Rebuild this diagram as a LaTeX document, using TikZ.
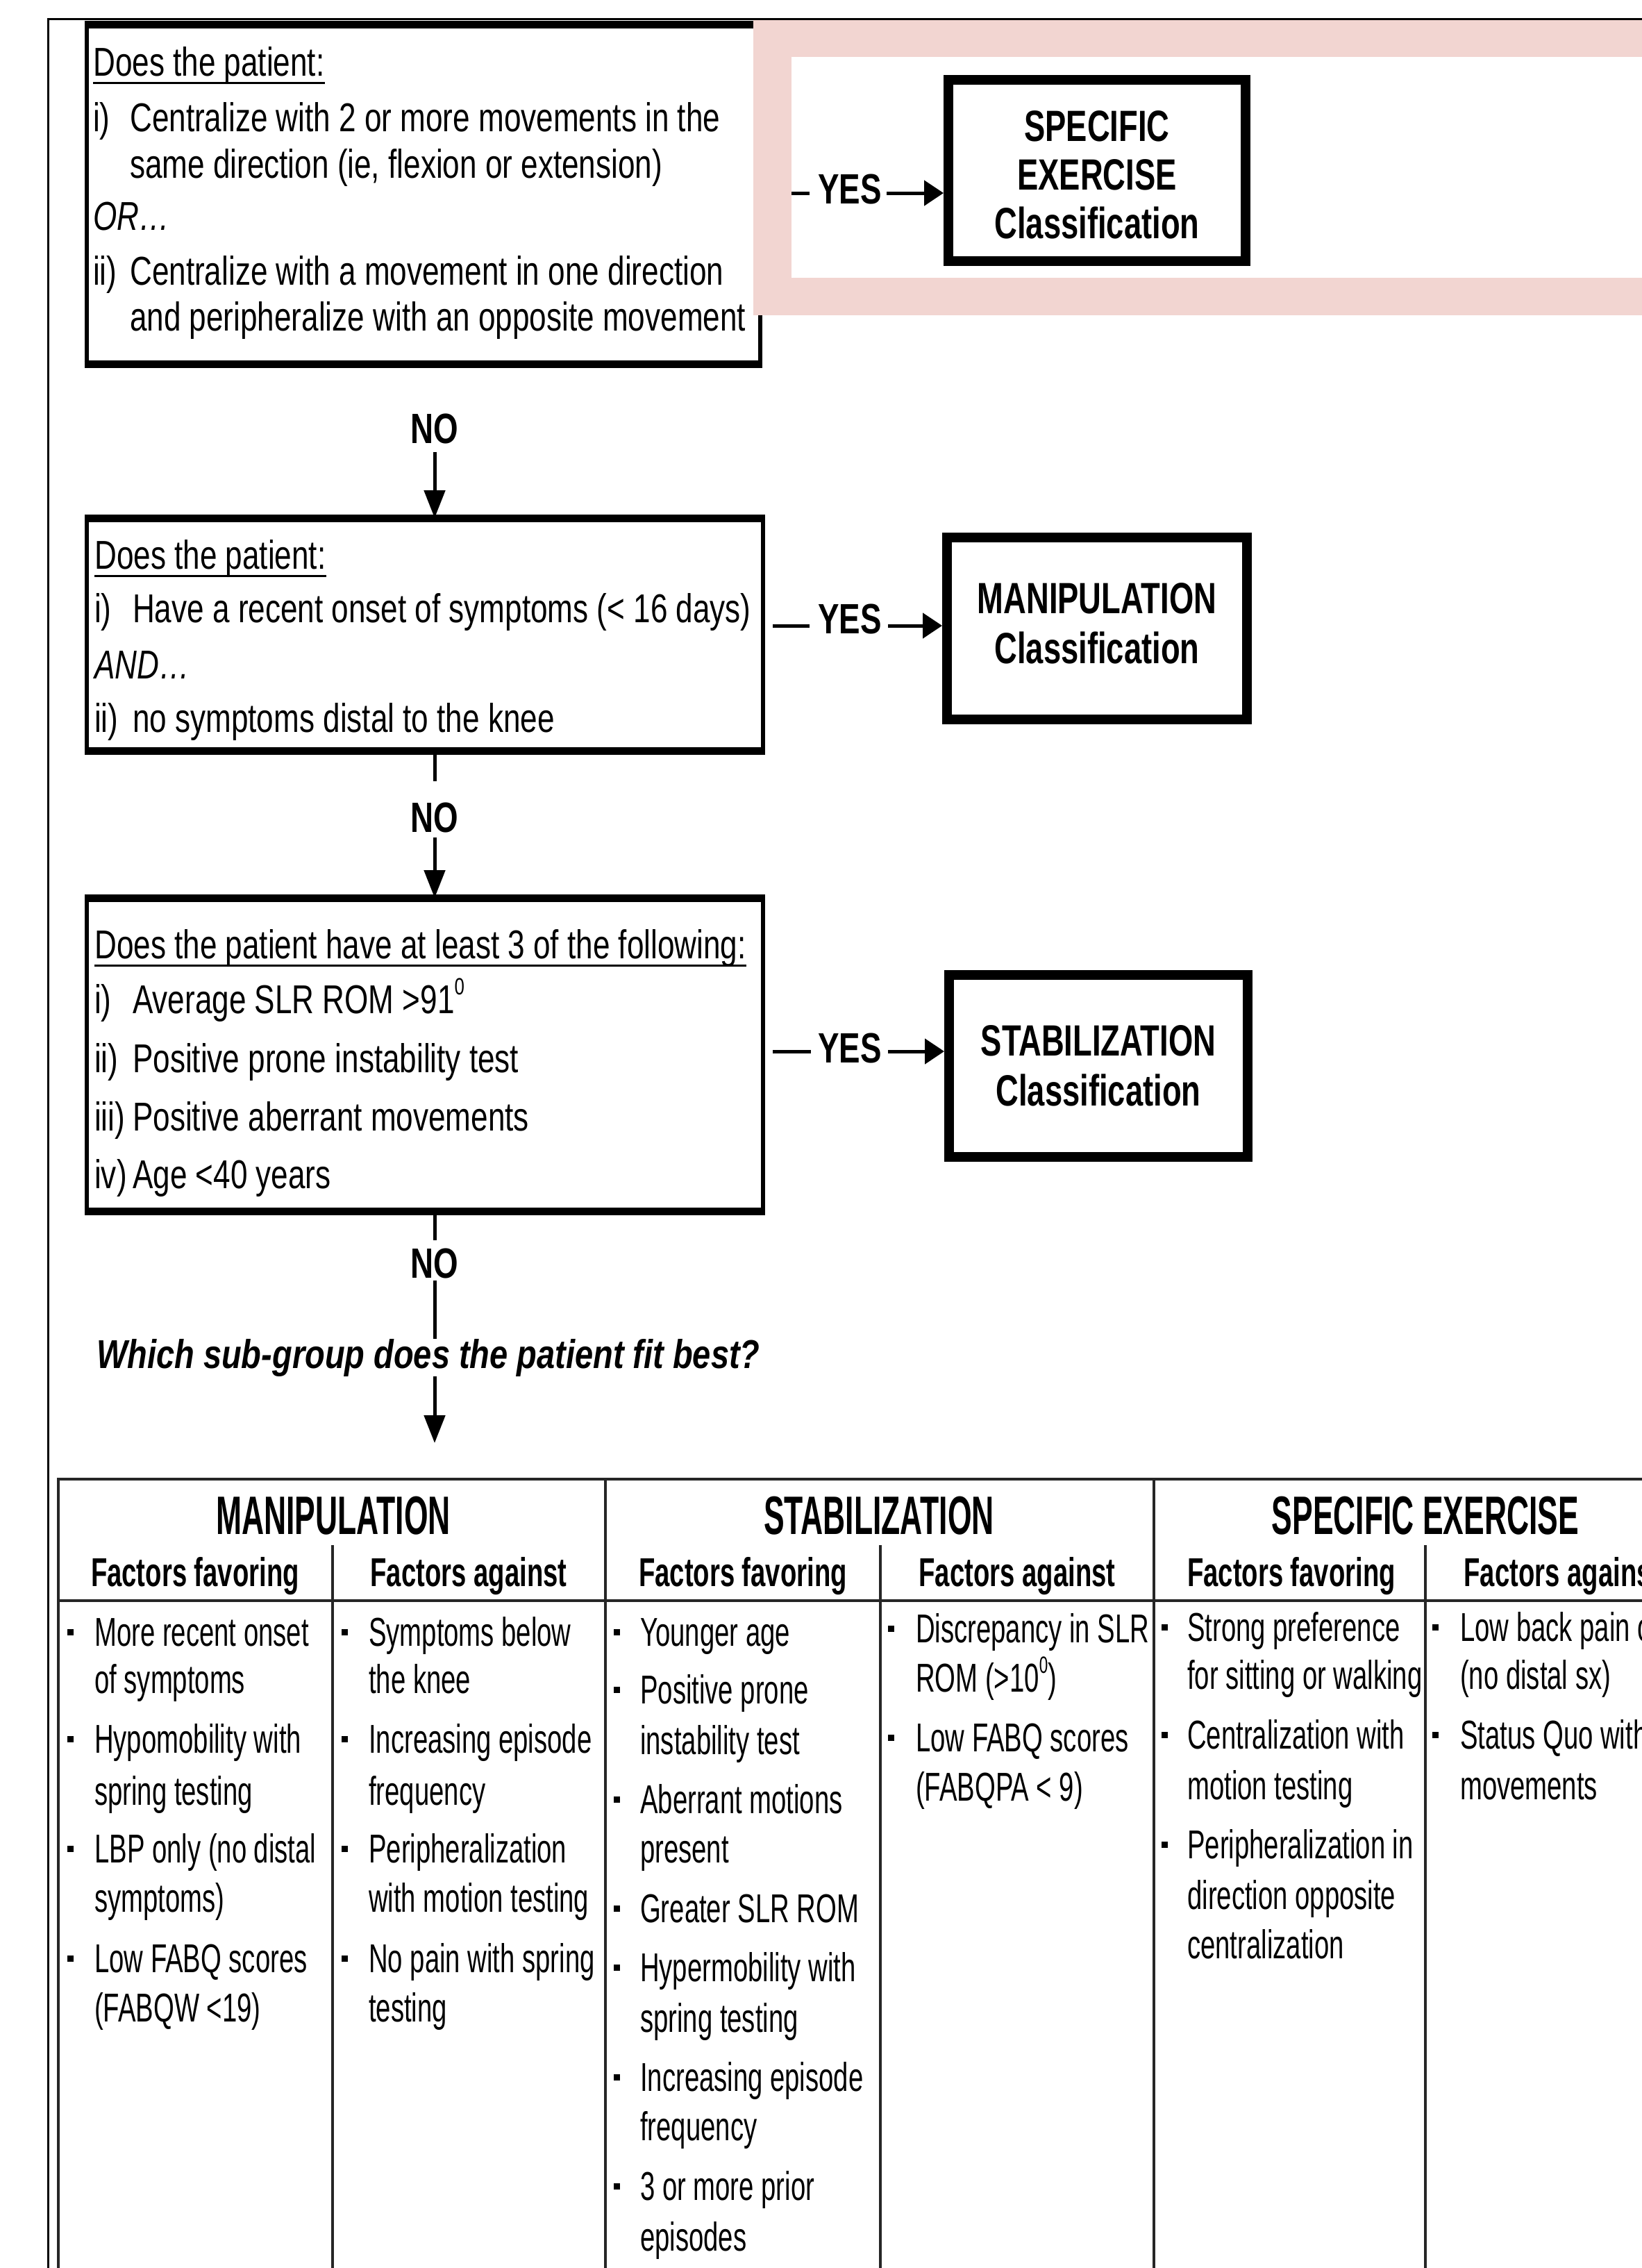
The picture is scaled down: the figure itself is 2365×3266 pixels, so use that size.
\documentclass[tikz,border=0pt]{standalone}
\usepackage{fontspec}
\setmainfont{Liberation Sans}
\newfontfamily\qfont{Liberation Sans}[FakeStretch=0.76]
\newfontfamily\itemfont{Liberation Sans}[FakeStretch=0.66]
\newfontfamily\clsfont{Liberation Sans}[FakeStretch=0.72]
\newfontfamily\ynfont{Liberation Sans}[FakeStretch=0.75]
\newfontfamily\hdfont{Liberation Sans}[FakeStretch=0.57]
\newfontfamily\shfont{Liberation Sans}[FakeStretch=0.66]
\newfontfamily\wfont{Liberation Sans}[FakeStretch=0.81]
\usetikzlibrary{arrows.meta}
\definecolor{pinkbg}{RGB}{242,213,209}
\newcommand\degsup{\raisebox{0.85ex}{\fontsize{34pt}{34pt}\selectfont 0}}
\newcommand\titem[4]{\node[itm] (#1) at (#2,#3) {#4};}
\newcommand\tbul[3]{\node[bul] (#1) at (#2,{#3-20}) {};}
\begin{document}
\begin{tikzpicture}[x=1pt,y=-1pt,
  qt/.style={anchor=base west, inner sep=0pt, font={\qfont\fontsize{58pt}{58pt}\selectfont}},
  itm/.style={anchor=base west, inner sep=0pt, font={\itemfont\fontsize{58pt}{58pt}\selectfont}},
  cls/.style={anchor=base, inner sep=0pt, font={\clsfont\bfseries\fontsize{63pt}{63pt}\selectfont}},
  yn/.style={anchor=base, inner sep=0pt, font={\ynfont\bfseries\fontsize{61pt}{61pt}\selectfont}},
  hd/.style={anchor=base, inner sep=0pt, font={\hdfont\bfseries\fontsize{78pt}{78pt}\selectfont}},
  sh/.style={anchor=base, inner sep=0pt, font={\shfont\bfseries\fontsize{58pt}{58pt}\selectfont}},
  qbox/.style={draw=black, line width=6pt, inner sep=0pt},
  cbox/.style={draw=black, line width=14pt, inner sep=0pt, fill=white},
  edge/.style={line width=10pt},
  ul/.style={line width=3pt},
  ln/.style={line width=5pt},
  arr/.style={line width=5pt, -{Triangle[length=40pt,width=30pt]}},
  harr/.style={line width=5pt, -{Triangle[length=28pt,width=36pt]}},
  frame/.style={line width=3pt},
  tline/.style={line width=3.5pt, black!85},
  bul/.style={fill=black, draw=none, inner sep=0pt, minimum size=9pt}]
\useasboundingbox (0,0) rectangle (2365,3266);
\begin{scope}
\clip (0,0) rectangle (2365,3266);
% outer frame
\draw[frame] (69,3300) -- (69,27) -- (2400,27);

% ---------- box 1 ----------
\node[qbox, minimum width=970pt, minimum height=484pt] (box1) at (609.5,279.5) {};
\draw[edge] (box1.north west) -- (box1.north east);
\draw[edge] (box1.south west) -- (box1.south east);
\node[qt] (q1h) at (134,109) {Does the patient:};
\draw[ul] ([yshift=-10pt]q1h.base west) -- ([yshift=-10pt]q1h.base east);
\node[qt] (q1a) at (134,189) {\makebox[53pt][l]{i)}Centralize with 2 or more movements in the};
\node[qt] (q1b) at (187,256) {same direction (ie, flexion or extension)};
\node[qt] (q1c) at (134,331) {\itshape OR\ldots};
\node[qt] (q1d) at (134,410) {\makebox[53pt][l]{ii)}Centralize with a movement in one direction};
\node[qt] (q1e) at (187,476) {and peripheralize with an opposite movement};

% pink highlight frame
\fill[pinkbg] (1085,29) rectangle (2365,454);
\fill[white] (1140,82) rectangle (2365,400);

% ---------- classification boxes ----------
\node[cbox, minimum width=428pt, minimum height=261pt] (cls1) at (1580,245.5) {};
\node[cls] (c1a) at (1580,203) {SPECIFIC};
\node[cls] (c1b) at (1580,273) {EXERCISE};
\node[cls] (c1c) at (1580,343) {Classification};

\node[cbox, minimum width=432pt, minimum height=262pt] (cls2) at (1580,905) {};
\node[cls] (c2a) at (1580,883) {MANIPULATION};
\node[cls] (c2b) at (1580,955) {Classification};

\node[cbox, minimum width=430pt, minimum height=262pt] (cls3) at (1582,1535) {};
\node[cls] (c3a) at (1582,1520) {STABILIZATION};
\node[cls] (c3b) at (1582,1592) {Classification};

% ---------- YES 1 ----------
\coordinate (d1s) at (1140,278);
\coordinate (d1e) at (1166,278);
\node[yn] (yes1) at (1224,293) {YES};
\coordinate (a1s) at (1277,278);
\draw[ln] (d1s) -- (d1e);
\draw[harr] (a1s) -- (a1s -| cls1.west);

% ---------- box 2 ----------
\node[qbox, minimum width=974pt, minimum height=330pt] (box2) at (612,914) {};
\draw[edge] (box2.north west) -- (box2.north east);
\draw[edge] (box2.south west) -- (box2.south east);
\node[qt] (q2h) at (136,819) {Does the patient:};
\draw[ul] ([yshift=-10pt]q2h.base west) -- ([yshift=-10pt]q2h.base east);
\node[qt] (q2a) at (136,896) {\makebox[55pt][l]{i)}Have a recent onset of symptoms (< 16 days)};
\node[qt] (q2b) at (136,977) {\itshape AND\ldots};
\node[qt] (q2c) at (136,1054) {\makebox[55pt][l]{ii)}no symptoms distal to the knee};

% ---------- NO 1 ----------
\node[yn] (no1) at (626,638) {NO};
\draw[arr] ([yshift=-12pt]no1.south) -- (no1.south |- box2.north);

% ---------- YES 2 ----------
\coordinate (d2s) at (1113,901);
\coordinate (d2e) at (1166,901);
\node[yn] (yes2) at (1224,912) {YES};
\coordinate (a2s) at (1279,901);
\draw[ln] (d2s) -- (d2e);
\draw[harr] (a2s) -- (a2s -| cls2.west);

% ---------- box 3 ----------
\node[qbox, minimum width=974pt, minimum height=446pt] (box3) at (612,1519) {};
\draw[edge] (box3.north west) -- (box3.north east);
\draw[edge] (box3.south west) -- (box3.south east);
\node[qt] (q3h) at (136,1380) {Does the patient have at least 3 of the following:};
\draw[ul] ([yshift=-10pt]q3h.base west) -- ([yshift=-10pt]q3h.base east);
\node[qt] (q3a) at (136,1459) {\makebox[55pt][l]{i)}Average SLR ROM >91\degsup};
\node[qt] (q3b) at (136,1544) {\makebox[55pt][l]{ii)}Positive prone instability test};
\node[qt] (q3c) at (136,1628) {\makebox[55pt][l]{iii)}Positive aberrant movements};
\node[qt] (q3d) at (136,1711) {\makebox[55pt][l]{iv)}Age <40 years};

% ---------- NO 2 ----------
\node[yn] (no2) at (626,1198) {NO};
\draw[ln] (no2.north |- box2.south) -- ([yshift=30pt]no2.north);
\draw[arr] ([yshift=-7pt]no2.south) -- (no2.south |- box3.north);

% ---------- YES 3 ----------
\coordinate (d3s) at (1113,1514);
\coordinate (d3e) at (1168,1514);
\node[yn] (yes3) at (1224,1530) {YES};
\coordinate (a3s) at (1279,1514);
\draw[ln] (d3s) -- (d3e);
\draw[harr] (a3s) -- (a3s -| cls3.west);

% ---------- NO 3 ----------
\node[yn] (no3) at (626,1840) {NO};
\draw[ln] (no3.north |- box3.south) -- ([yshift=11pt]no3.north);
\node[anchor=base west, inner sep=0pt, font={\wfont\bfseries\itshape\fontsize{58pt}{58pt}\selectfont}] (which) at (139,1970) {Which sub-group does the patient fit best?};
\draw[ln] ([yshift=-3pt]no3.south) -- (no3.south |- which.north);
\coordinate (tbl) at (626,2078);
\draw[arr] (no3.south |- which.south) -- (tbl);

% ---------- table ----------
\draw[tline] (84,3300) -- (84,2130) -- (2400,2130);
\draw[tline] (84,2305) -- (2400,2305);
\draw[tline] (872,2130) -- (872,3300);
\draw[tline] (1662,2130) -- (1662,3300);
\draw[tline] (479,2225) -- (479,3300);
\draw[tline] (1268,2225) -- (1268,3300);
\draw[tline] (2053,2225) -- (2053,3300);

\node[hd] (hman) at (480,2209) {MANIPULATION};
\node[hd] (hstab) at (1266,2209) {STABILIZATION};
\node[hd] (hspec) at (2053,2209) {SPECIFIC EXERCISE};

\node[sh] (s1) at (281,2284) {Factors favoring};
\node[sh] (s2) at (675,2284) {Factors against};
\node[sh] (s3) at (1070,2284) {Factors favoring};
\node[sh] (s4) at (1465,2284) {Factors against};
\node[sh] (s5) at (1860,2284) {Factors favoring};
\node[sh] (s6) at (2250,2284) {Factors against};

% manipulation favoring
\tbul{b11}{101}{2370}\titem{t11a}{136}{2370}{More recent onset}
\titem{t11b}{136}{2438}{of symptoms}
\tbul{b12}{101}{2524}\titem{t12a}{136}{2524}{Hypomobility with}
\titem{t12b}{136}{2599}{spring testing}
\tbul{b13}{101}{2682}\titem{t13a}{136}{2682}{LBP only (no distal}
\titem{t13b}{136}{2753}{symptoms)}
\tbul{b14}{101}{2840}\titem{t14a}{136}{2840}{Low FABQ scores}
\titem{t14b}{136}{2911}{(FABQW <19)}

% manipulation against
\tbul{b21}{496}{2370}\titem{t21a}{531}{2370}{Symptoms below}
\titem{t21b}{531}{2438}{the knee}
\tbul{b22}{496}{2524}\titem{t22a}{531}{2524}{Increasing episode}
\titem{t22b}{531}{2599}{frequency}
\tbul{b23}{496}{2682}\titem{t23a}{531}{2682}{Peripheralization}
\titem{t23b}{531}{2753}{with motion testing}
\tbul{b24}{496}{2840}\titem{t24a}{531}{2840}{No pain with spring}
\titem{t24b}{531}{2911}{testing}

% stabilization favoring
\tbul{b31}{888}{2370}\titem{t31a}{922}{2370}{Younger age}
\tbul{b32}{888}{2453}\titem{t32a}{922}{2453}{Positive prone}
\titem{t32b}{922}{2526}{instability test}
\tbul{b33}{888}{2611}\titem{t33a}{922}{2611}{Aberrant motions}
\titem{t33b}{922}{2682}{present}
\tbul{b34}{888}{2768}\titem{t34a}{922}{2768}{Greater SLR ROM}
\tbul{b35}{888}{2853}\titem{t35a}{922}{2853}{Hypermobility with}
\titem{t35b}{922}{2926}{spring testing}
\tbul{b36}{888}{3011}\titem{t36a}{922}{3011}{Increasing episode}
\titem{t36b}{922}{3082}{frequency}
\tbul{b37}{888}{3168}\titem{t37a}{922}{3168}{3 or more prior}
\titem{t37b}{922}{3241}{episodes}

% stabilization against
\tbul{b41}{1283}{2365}\titem{t41a}{1319}{2365}{Discrepancy in SLR}
\titem{t41b}{1319}{2436}{ROM (>10\degsup)}
\tbul{b42}{1283}{2522}\titem{t42a}{1319}{2522}{Low FABQ scores}
\titem{t42b}{1319}{2593}{(FABQPA < 9)}

% specific exercise favoring
\tbul{b51}{1677}{2363}\titem{t51a}{1710}{2363}{Strong preference}
\titem{t51b}{1710}{2432}{for sitting or walking}
\tbul{b52}{1677}{2518}\titem{t52a}{1710}{2518}{Centralization with}
\titem{t52b}{1710}{2591}{motion testing}
\tbul{b53}{1677}{2676}\titem{t53a}{1710}{2676}{Peripheralization in}
\titem{t53b}{1710}{2749}{direction opposite}
\titem{t53c}{1710}{2820}{centralization}

% specific exercise against
\tbul{b61}{2067}{2363}\titem{t61a}{2103}{2363}{Low back pain only}
\titem{t61b}{2103}{2432}{(no distal sx)}
\tbul{b62}{2067}{2518}\titem{t62a}{2103}{2518}{Status Quo with}
\titem{t62b}{2103}{2591}{movements}
\end{scope}
\end{tikzpicture}
\end{document}
